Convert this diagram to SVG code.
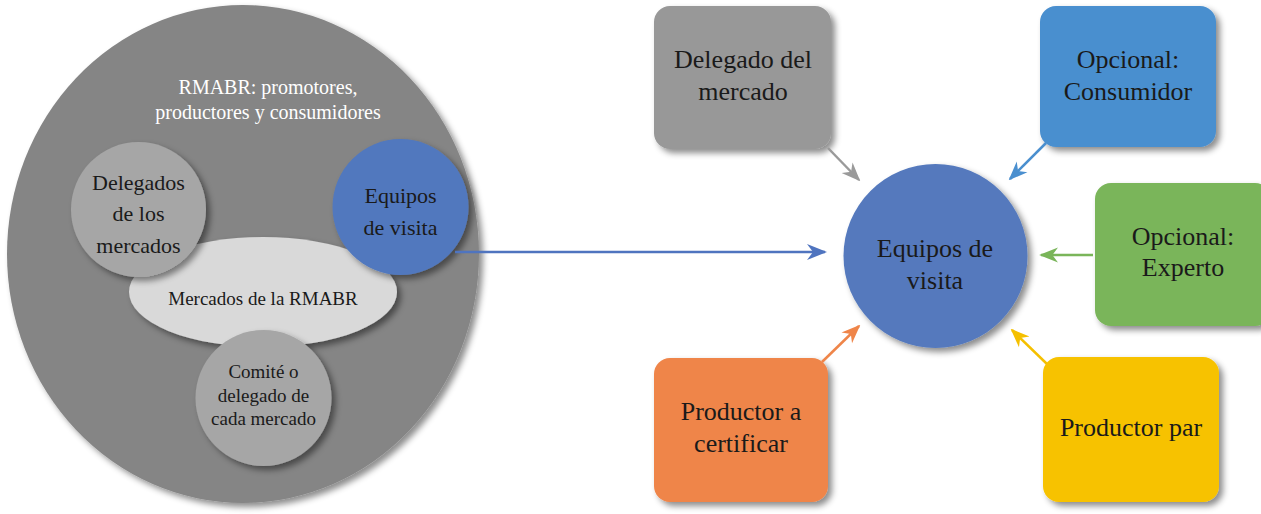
<svg xmlns="http://www.w3.org/2000/svg" width="1261" height="514" viewBox="0 0 1261 514">
<defs>
<filter id="sh" x="-20%" y="-20%" width="150%" height="150%">
<feDropShadow dx="4" dy="4" stdDeviation="3" flood-color="#000" flood-opacity="0.45"/>
</filter>
<marker id="aBlue" viewBox="0 0 10 10" refX="9" refY="5" markerWidth="20" markerHeight="20" markerUnits="userSpaceOnUse" orient="auto"><path d="M0,1 L10,5 L0,9 L3,5 z" fill="#4f74bf"/></marker>
<marker id="aGray" viewBox="0 0 10 10" refX="9" refY="5" markerWidth="19" markerHeight="19" markerUnits="userSpaceOnUse" orient="auto"><path d="M0,1 L10,5 L0,9 L3,5 z" fill="#9a9a9a"/></marker>
<marker id="aLBlue" viewBox="0 0 10 10" refX="9" refY="5" markerWidth="19" markerHeight="19" markerUnits="userSpaceOnUse" orient="auto"><path d="M0,1 L10,5 L0,9 L3,5 z" fill="#4a8fcf"/></marker>
<marker id="aGreen" viewBox="0 0 10 10" refX="9" refY="5" markerWidth="19" markerHeight="19" markerUnits="userSpaceOnUse" orient="auto"><path d="M0,1 L10,5 L0,9 L3,5 z" fill="#7ab55a"/></marker>
<marker id="aOrange" viewBox="0 0 10 10" refX="9" refY="5" markerWidth="19" markerHeight="19" markerUnits="userSpaceOnUse" orient="auto"><path d="M0,1 L10,5 L0,9 L3,5 z" fill="#ef8549"/></marker>
<marker id="aYellow" viewBox="0 0 10 10" refX="9" refY="5" markerWidth="19" markerHeight="19" markerUnits="userSpaceOnUse" orient="auto"><path d="M0,1 L10,5 L0,9 L3,5 z" fill="#f5c000"/></marker>
</defs>
<style>
text{text-anchor:middle;dominant-baseline:central;fill:#1a1a1a}
.wt{fill:#ffffff;font-size:20px}
.sm{font-size:19px}
.md{font-size:22px}
.lg{font-size:26px}
.conn line{stroke-width:2.5;fill:none}
</style>
<rect width="1261" height="514" fill="#ffffff"/>
<g font-family="'Liberation Serif', 'DejaVu Serif', serif">
<g id="rmabr">
<ellipse cx="243" cy="254" rx="236" ry="249" fill="#858585" filter="url(#sh)"/>
<text class="wt" x="268" y="87">RMABR: promotores,</text>
<text class="wt" x="268" y="112">productores y consumidores</text>
</g>
<g id="mercados">
<ellipse cx="263" cy="292" rx="134" ry="55" fill="#d9d9d9" filter="url(#sh)"/>
<text class="sm" x="263" y="298">Mercados de la RMABR</text>
</g>
<g id="delegados">
<circle cx="138.5" cy="209.5" r="67.5" fill="#a6a6a6" filter="url(#sh)"/>
<text class="md" x="138.5" y="182">Delegados</text>
<text class="md" x="138.5" y="213">de los</text>
<text class="md" x="138.5" y="245">mercados</text>
</g>
<g id="equipos-izq">
<circle cx="400.5" cy="207" r="68" fill="#5178be" filter="url(#sh)"/>
<text class="md" x="400.5" y="195">Equipos</text>
<text class="md" x="400.5" y="227">de visita</text>
</g>
<g id="comite">
<circle cx="263.5" cy="398" r="68" fill="#a6a6a6" filter="url(#sh)"/>
<text class="sm" x="263.5" y="371">Comité o</text>
<text class="sm" x="263.5" y="395">delegado de</text>
<text class="sm" x="263.5" y="418">cada mercado</text>
</g>
<g id="delegado-mercado">
<rect x="654" y="6" width="177" height="143" rx="16" fill="#989898" filter="url(#sh)"/>
<text class="lg" x="743" y="59">Delegado del</text>
<text class="lg" x="743" y="91">mercado</text>
</g>
<g id="consumidor">
<rect x="1040" y="6" width="176" height="141" rx="16" fill="#4a8fcf" filter="url(#sh)"/>
<text class="lg" x="1128" y="59">Opcional:</text>
<text class="lg" x="1128" y="91">Consumidor</text>
</g>
<g id="experto">
<rect x="1095" y="183" width="176" height="143" rx="16" fill="#7ab55a" filter="url(#sh)"/>
<text class="lg" x="1183" y="236">Opcional:</text>
<text class="lg" x="1183" y="267">Experto</text>
</g>
<g id="productor-certificar">
<rect x="654" y="358" width="174" height="144" rx="16" fill="#ef8549" filter="url(#sh)"/>
<text class="lg" x="741" y="411">Productor a</text>
<text class="lg" x="741" y="443">certificar</text>
</g>
<g id="productor-par">
<rect x="1043" y="357" width="176" height="145" rx="16" fill="#f7c200" filter="url(#sh)"/>
<text class="lg" x="1131" y="427">Productor par</text>
</g>
<g id="equipos-centro">
<circle cx="935.5" cy="256" r="92" fill="#5479bd" filter="url(#sh)"/>
<text class="lg" x="935" y="248">Equipos de</text>
<text class="lg" x="935" y="280">visita</text>
</g>
</g>
<g id="connectors" class="conn">
<line x1="455" y1="252" x2="825" y2="252" stroke="#4f74bf" stroke-width="2" marker-end="url(#aBlue)"/>
<line x1="828" y1="148" x2="859" y2="180" stroke="#9a9a9a" marker-end="url(#aGray)"/>
<line x1="1046" y1="143" x2="1010" y2="179" stroke="#4a8fcf" marker-end="url(#aLBlue)"/>
<line x1="1093" y1="255" x2="1041" y2="255" stroke="#7ab55a" marker-end="url(#aGreen)"/>
<line x1="822" y1="362" x2="859" y2="326" stroke="#ef8549" marker-end="url(#aOrange)"/>
<line x1="1047" y1="364" x2="1012" y2="330" stroke="#f5c000" marker-end="url(#aYellow)"/>
</g>
</svg>
